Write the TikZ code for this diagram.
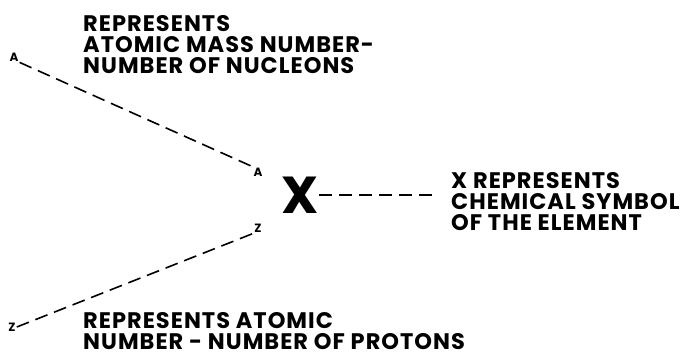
\documentclass[tikz,border=0pt]{standalone}
\usepackage{fontspec}
\setmainfont{Poppins}[LetterSpace=4.5]
\begin{document}
\begin{tikzpicture}[x=1pt,y=-1pt,
  lbl/.style={font=\fontsize{22.5}{21}\selectfont\bfseries, align=left, anchor=north west, inner sep=0pt},
  tiny/.style={font=\fontsize{12}{12}\selectfont\bfseries, inner sep=1pt},
  dline/.style={line width=1.6pt, dash pattern=on 13pt off 7pt}]
\useasboundingbox (0,0) rectangle (684,358);
\node[tiny] (a1) at (14,57) {A};
\node[tiny] (a2) at (258,172) {A};
\node[tiny] (z1) at (12,327) {Z};
\node[tiny] (z2) at (258,228) {Z};
\node[font=\fontsize{52}{52}\selectfont\bfseries, inner sep=0pt] (x) at (300,195) {X};
\node[lbl] (top) at (83,15) {REPRESENTS\\ATOMIC MASS NUMBER-\\NUMBER OF NUCLEONS};
\node[lbl] (right) at (451,172) {X REPRESENTS\\CHEMICAL SYMBOL\\OF THE ELEMENT};
\node[lbl] (bot) at (83,312) {REPRESENTS ATOMIC\\NUMBER - NUMBER OF PROTONS};
\coordinate (xend) at (432,195);
\draw[dline] (a1.south east) -- (a2.north west);
\draw[dline] (z1.east) -- (z2.south west);
\draw[dline] (x.east) -- (xend);
\end{tikzpicture}
\end{document}
